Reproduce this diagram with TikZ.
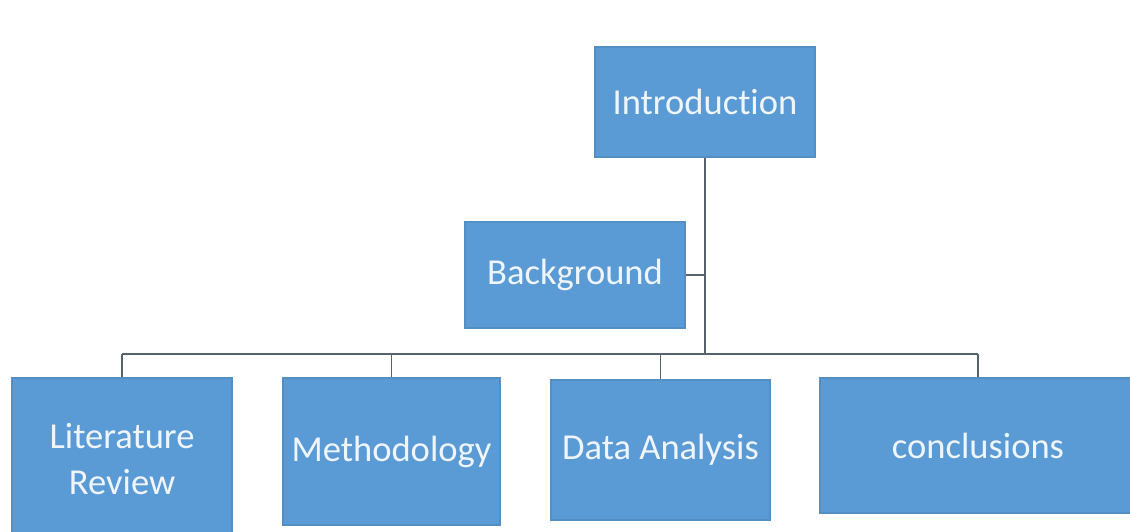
\documentclass[tikz,border=0pt]{standalone}
\usepackage{fontspec}
\setmainfont{Carlito}[Ligatures={NoCommon,NoRare}]
\usepackage{tikz}
\usetikzlibrary{calc,positioning}
\definecolor{boxblue}{HTML}{5B9BD5}
\definecolor{linkgray}{HTML}{56626E}

\begin{document}
\begin{tikzpicture}[
  part/.style = {fill=boxblue, draw=boxblue!92!black, line width=0.3pt, text=white!90!boxblue, align=center,
                 inner sep=0pt, font=\fontsize{10.4}{13}\selectfont},
  link/.style = {draw=linkgray, line width=0.55pt}]
\useasboundingbox (0,0) rectangle (11.30,5.32);
\path (7.05,4.30) node[part, minimum width=2.20cm, minimum height=1.10cm] (intro) {Introduction};
\path (5.75,2.57) node[part, minimum width=2.20cm, minimum height=1.06cm] (bg) {Background};
\path (1.22,0.73) node[part, minimum width=2.20cm, minimum height=1.62cm] (lit) {Literature\\Review};
\path (3.915,0.805) node[part, minimum width=2.17cm, minimum height=1.47cm] (meth) {Methodology};
\path (6.605,0.82) node[part, minimum width=2.19cm, minimum height=1.40cm] (data) {Data Analysis};
\path (9.78,0.865) node[part, minimum width=3.16cm, minimum height=1.35cm] (concl) {conclusions};
\coordinate (bus) at (0,1.78);
\draw[link] (intro.south) -- (intro.south |- bus);
\draw[link] (bg.east) -- (bg.east -| intro.south);
\draw[link] (lit.north |- bus) -- (concl.north |- bus);
\foreach \n in {lit,meth,data,concl}
  \draw[link] (\n.north) -- (\n.north |- bus);
\end{tikzpicture}
\end{document}
